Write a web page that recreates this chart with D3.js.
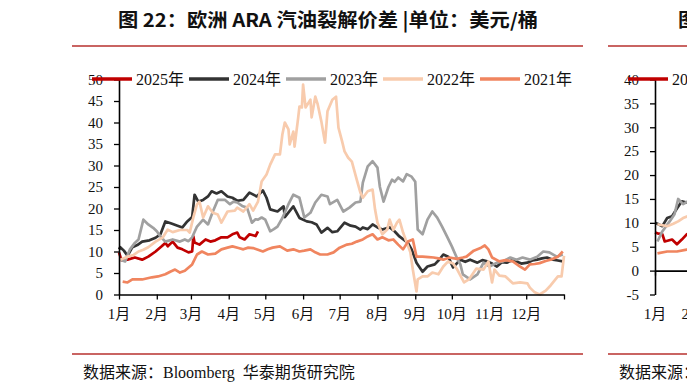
<!DOCTYPE html>
<html><head><meta charset="utf-8">
<script src="https://cdn.jsdelivr.net/npm/d3@7/dist/d3.min.js"></script>
<style>body{margin:0;background:#fff;}svg{display:block;}</style>
</head><body>
<svg id="chart" width="687" height="389"></svg>
<script>
// ---------- DATA ----------
const seriesNames = ["2025年", "2024年", "2023年", "2022年", "2021年"];
const monthLabels = ["1月","2月","3月","4月","5月","6月","7月","8月","9月","10月","11月","12月"];
const monthStartDays = [0,31,59,90,120,151,181,212,243,273,304,334,365];
const yTicksGasoline = [0,5,10,15,20,25,30,35,40,45,50];
const yTicksRight = [-5,0,5,10,15,20,25,30,35,40];

// [day of year, USD/bbl]
const gas2025 = [[0,9.8],[2,8.0],[7,8.1],[13,8.6],[19,8.1],[24,8.8],[30,10],[35,11.2],[38,12],[40,11.2],[44,12.3],[48,10.9],[52,10.5],[57,9.8],[60,10],[61,13.5],[62,12.1],[66,11.6],[71,12.8],[75,12.3],[79,12.6],[84,13.3],[89,13.3],[93,14],[97,14.4],[99,13.3],[103,12.8],[107,14],[112,13.6],[114,14.7]];
const gas2024 = [[0,10.5],[1,11],[4,10.2],[7,9.0],[11,11],[15,11.5],[19,12.3],[25,12.6],[30,13.2],[34,14],[38,17],[43,16.5],[48,16],[52,15.6],[56,17],[60,18],[62,23.2],[65,21.6],[69,22],[73,22.8],[76,24],[80,23.5],[84,24],[89,22.8],[93,22.5],[97,21.8],[102,22],[107,23.7],[113,22.8],[118,24.2],[121,22.5],[124,19.8],[130,19.3],[135,20.5],[136,18],[143,20.5],[148,17.8],[154,17],[158,16.8],[162,16.3],[166,14.4],[171,15.5],[175,14.5],[179,14.7],[185,16.7],[190,16],[194,15.8],[198,15.1],[200,15.6],[204,15.2],[208,16.3],[212,15.6],[216,15.1],[222,15.6],[226,14.7],[230,13.5],[237,12],[240,10.5],[244,7.4],[249,5.3],[253,6.5],[259,7],[263,8.2],[266,9.3],[270,8.8],[274,6.3],[280,8.1],[284,7.6],[288,8.1],[294,7.4],[298,8],[302,7.7],[306,7.2],[310,6.5],[314,7.5],[318,7.4],[322,7.9],[326,7.7],[330,7.2],[335,7.4],[339,7.9],[343,8.1],[347,8.4],[351,8.6],[356,8.1],[360,7.9],[364,7.7]];
const gas2023 = [[1,8.1],[5,7.7],[9,10.5],[13,12],[16,12.8],[20,17.4],[24,16.3],[28,15.5],[31,14.7],[34,13.5],[38,12.3],[44,12.8],[50,12.3],[54,12.8],[57,12.4],[60,13.3],[64,15.8],[69,17.4],[73,16.3],[77,19.3],[81,22],[87,22],[91,21],[94,21.6],[97,21.4],[101,20.6],[105,20.2],[109,16.7],[112,17.5],[114,17.4],[117,17.9],[120,17.4],[124,14.7],[127,15.2],[130,15.8],[134,17.8],[139,21],[143,23.2],[148,22.5],[152,17.9],[157,19],[161,21.4],[166,23.2],[171,22.8],[173,21],[179,22],[184,19.3],[189,20.2],[194,21.4],[198,21.6],[200,26],[204,29.8],[208,31],[212,29.5],[214,25],[217,21.6],[221,25],[224,26.7],[226,26.2],[229,27.2],[233,26.3],[236,28],[240,27.4],[243,26.2],[245,15.1],[249,14],[253,17.4],[257,19.3],[261,17.9],[265,15.8],[269,13.5],[273,11.2],[277,8.6],[280,7],[282,4.7],[288,3.5],[294,4.7],[299,7.4],[304,6.5],[310,7.4],[315,7.7],[321,8.6],[326,8.1],[331,8.6],[337,8.1],[343,8.8],[348,10],[353,9.8],[359,8.8],[364,9.3]];
const gas2022 = [[1,8.1],[7,8.8],[12,9.2],[16,10],[20,10.4],[24,11],[30,12.3],[36,13.3],[40,15.1],[44,14.5],[50,15],[56,15],[58,14.4],[61,18],[64,21],[66,21.6],[69,17.9],[73,20.5],[77,19],[81,18.6],[84,16.7],[89,19.3],[95,19.5],[97,20.2],[102,19.3],[107,21],[110,19.5],[114,21.6],[117,26.3],[121,27.9],[124,30.2],[128,32.6],[132,32.6],[134,37.2],[136,40],[139,38.4],[140,34.9],[143,37.9],[144,34.4],[147,41.2],[148,43.7],[150,43.5],[151,48.8],[153,43.5],[157,45.3],[158,41.2],[161,46],[163,44.2],[166,40.2],[169,35.3],[171,42.6],[175,45.3],[178,46],[180,38.8],[183,35.6],[185,33.3],[188,31.8],[191,30.9],[195,26.7],[198,23.7],[200,22.5],[204,24],[208,24.4],[210,19.8],[212,16.7],[216,14],[220,15.1],[222,17.4],[225,15],[228,16.7],[230,17.4],[233,14.4],[236,12.1],[239,9.8],[241,5.8],[244,0.7],[245,3.5],[249,4.2],[253,4.2],[257,5.1],[262,4.7],[266,6.5],[270,7.7],[274,7.2],[277,6],[283,2.8],[287,3.5],[293,6],[299,5.8],[303,7.7],[306,2.8],[308,5.8],[312,4.4],[317,4.2],[323,2.6],[329,2.8],[335,2.6],[337,1.6],[341,0.5],[345,0],[350,0.9],[354,2.1],[360,4.2],[363,4.2],[365,9]];
const gas2021 = [[3,3],[7,2.8],[11,3.5],[19,3.5],[27,4],[32,4.2],[38,4.7],[42,5.3],[46,5.8],[50,5.1],[54,5.5],[60,7],[64,9.3],[68,10],[73,9.3],[79,9.5],[84,10.5],[89,10.9],[93,11.2],[98,10.8],[102,10.5],[106,10.9],[110,10.8],[114,10.4],[118,10],[122,10.5],[126,10.9],[132,11.2],[138,10.2],[143,10.5],[148,10],[152,10.2],[157,10.5],[161,9.8],[165,9.3],[171,9.3],[176,9.8],[181,10.9],[187,11.6],[191,11.8],[195,12.3],[200,12.8],[204,13.5],[208,14],[212,12.8],[216,13.3],[221,12.6],[225,12.8],[229,11.6],[233,10.5],[237,12.3],[241,12.8],[244,8.8],[249,8.8],[254,8.7],[258,8.6],[262,8.4],[266,8.1],[271,8.6],[277,8.3],[282,8.6],[285,8.8],[291,10.2],[297,10.9],[300,11.4],[303,10.5],[306,8.6],[312,7.7],[317,8],[323,7.7],[329,6.5],[333,5.8],[337,7],[341,7.1],[345,7.3],[350,7.8],[354,8.1],[360,8.8],[364,10]];

// partially visible neighbouring chart
const right2025 = [[0,8],[2,7.8],[6,7.6],[8,6.1],[14,6.5],[18,5.5],[22,6.5],[26,7.6],[32,8]];
const right2024 = [[0,10],[2,9.8],[6,9.3],[10,11],[14,11.4],[18,13],[22,14.5],[27,14.2],[32,15]];
const right2023 = [[2,6.1],[6,8.2],[12,10.3],[16,11.8],[19,15],[23,13.9],[27,14.5],[32,14]];
const right2022 = [[2,9.7],[6,9.5],[10,9.3],[15,9.8],[19,10.3],[23,11],[27,11.4],[32,12]];
const right2021 = [[2,3.6],[10,4],[18,4],[26,4.4],[32,4.5]];

const titleMain = "图 22：欧洲 ARA 汽油裂解价差 |单位：美元/桶";
const titleRight = "图 23：欧洲 ARA 柴油裂解价差 |单位：美元/桶";
const sourceText = "数据来源：Bloomberg\u00a0\u00a0华泰期货研究院";

// ---------- STYLE ----------
const W = 687;
const colors = ["#c00000", "#333333", "#a0a0a0", "#f8cbad", "#f0855f"];
const serif = "'Liberation Serif','Times New Roman','Noto Sans CJK SC',serif";
const ruleColor = "#c96462";

const svg = d3.select("#chart");

function drawPanel(ox, title, titleX, yDomain, yTicks, series, legendX, legendItems) {
  const g = svg.append("g").attr("transform", `translate(${ox},0)`);
  const x = d3.scaleLinear().domain([0, 365]).range([119, 564]);
  const y = d3.scaleLinear().domain(yDomain).range([294.5, 79.5]);
  const visible = px => ox + px < W - 2;

  // title
  g.append("text").attr("x", titleX).attr("y", 27)
    .attr("font-family", "'Noto Sans CJK SC',sans-serif").attr("font-weight", "bold")
    .attr("font-size", 19).attr("fill", "#111")
    .attr("textLength", 420).attr("lengthAdjust", "spacingAndGlyphs")
    .text(title);
  g.append("line").attr("x1", 72).attr("x2", 583).attr("y1", 46).attr("y2", 46)
    .attr("stroke", ruleColor).attr("stroke-width", 2.2);

  // lines
  const line = d3.line().x(d => x(d[0])).y(d => y(d[1]));
  series.forEach((s, i) => {
    g.append("path").datum(s).attr("d", line)
      .attr("fill", "none").attr("stroke", colors[i]).attr("stroke-width", 2.7)
      .attr("stroke-linejoin", "round");
  });

  // y axis
  const ya = g.append("g").attr("transform", "translate(119,0)")
    .call(d3.axisLeft(y).tickValues(yTicks).tickSize(5).tickSizeOuter(0).tickPadding(11).tickFormat(d => String(d)));
  ya.select(".domain").attr("stroke", "#000").attr("stroke-width", 1.6);
  ya.selectAll(".tick line").attr("stroke", "#000").attr("stroke-width", 1.3);
  ya.selectAll("text").attr("font-family", serif).attr("font-size", 15).attr("fill", "#111");

  // x axis (line at y=0)
  const xa = g.append("g").attr("transform", `translate(0,${y(0)})`)
    .call(d3.axisBottom(x).tickValues(monthStartDays).tickSize(5).tickSizeOuter(0).tickFormat(""));
  xa.select(".domain").attr("stroke", "#000").attr("stroke-width", 1.6);
  xa.selectAll(".tick line").attr("stroke", "#000").attr("stroke-width", 1.3);

  // month labels at bottom
  const labels = monthLabels.map((m, i) => ({ m, px: x(monthStartDays[i]) }))
    .filter(d => visible(d.px - 12));
  g.append("g").selectAll("text").data(labels).join("text")
    .attr("x", d => d.px)
    .attr("y", 319)
    .attr("text-anchor", "middle")
    .attr("font-family", serif).attr("font-size", 15).attr("fill", "#111")
    .text(d => d.m);

  // legend
  const lg = g.append("g");
  legendItems.forEach((name, i) => {
    const lx = legendX + i * 97;
    if (!visible(lx)) return;
    lg.append("line").attr("x1", lx).attr("x2", lx + 40).attr("y1", 79).attr("y2", 79)
      .attr("stroke", colors[i]).attr("stroke-width", 3.6);
    if (!visible(lx + 44)) return;
    lg.append("text").attr("x", lx + 44).attr("y", 84.5)
      .attr("font-family", serif).attr("font-size", 16).attr("fill", "#111").text(name);
  });

  // source
  g.append("line").attr("x1", 72).attr("x2", 583).attr("y1", 354).attr("y2", 354)
    .attr("stroke", ruleColor).attr("stroke-width", 2.2);
  g.append("text").attr("x", 83).attr("y", 378)
    .attr("font-family", serif).attr("font-size", 16).attr("fill", "#111")
    .text(sourceText);
}

drawPanel(0, titleMain, 118, [0, 50], yTicksGasoline,
  [gas2025, gas2024, gas2023, gas2022, gas2021], 92, seriesNames);
drawPanel(536, titleRight, 142, [-5, 40], yTicksRight,
  [right2025, right2024, right2023, right2022, right2021], 92, seriesNames);
</script>
</body></html>
